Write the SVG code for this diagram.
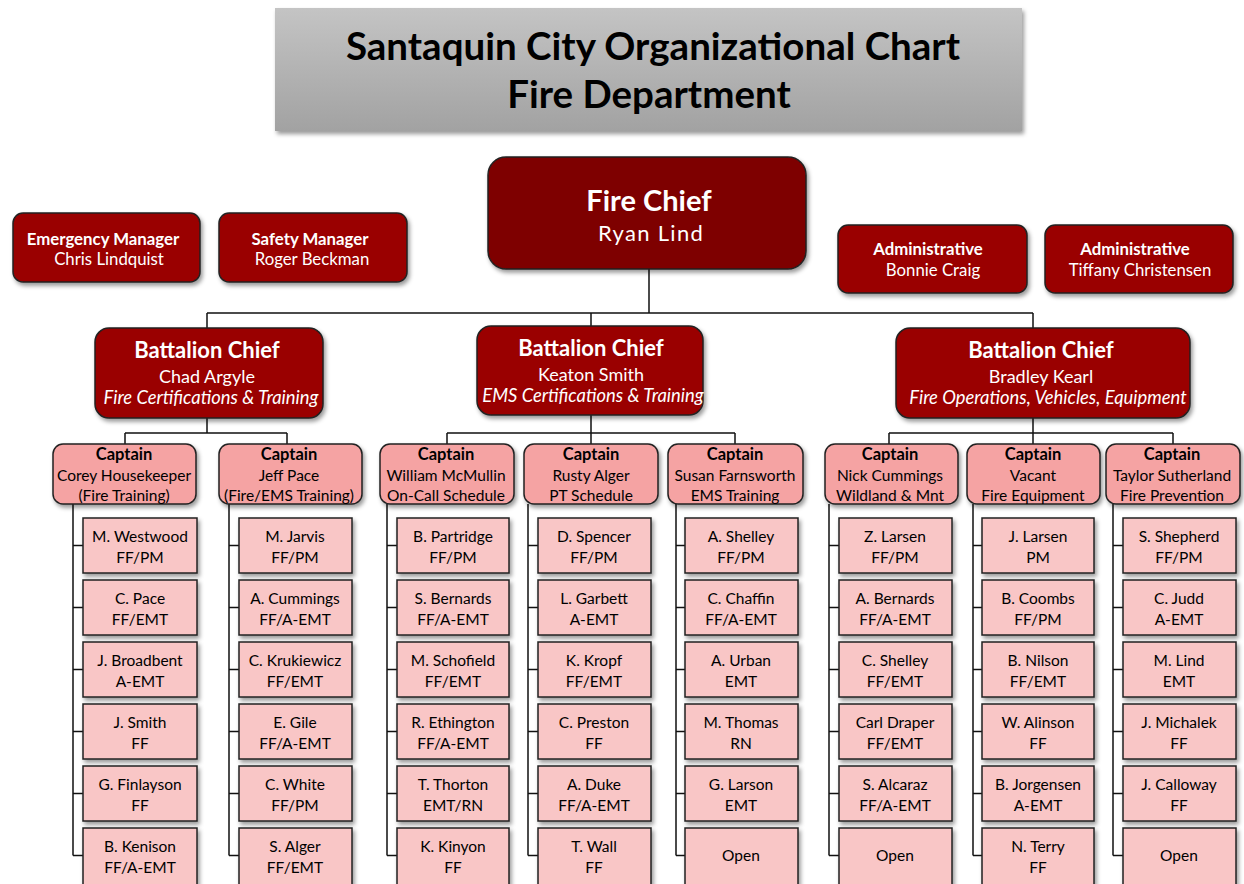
<svg xmlns="http://www.w3.org/2000/svg" width="1244" height="884" viewBox="0 0 1244 884">
  <defs>
    <linearGradient id="titleGrad" x1="0" y1="0" x2="0" y2="1">
      <stop offset="0" stop-color="#c4c4c4"/>
      <stop offset="1" stop-color="#a2a2a2"/>
    </linearGradient>
    <filter id="sh" x="-10%" y="-10%" width="125%" height="135%">
      <feDropShadow dx="2" dy="3" stdDeviation="2" flood-color="#000" flood-opacity="0.4"/>
    </filter>
  </defs>
  <style>
    text { font-family: Lato, "Liberation Sans", sans-serif; text-anchor: middle; }
    .title { font-size: 38.5px; font-weight: bold; fill: #000; }
    .chief { fill: #7e0000; stroke: #222; stroke-width: 1.5; }
    .red { fill: #9a0000; stroke: #222; stroke-width: 1.5; }
    .cap { fill: #f5a3a3; stroke: #222; stroke-width: 1.5; }
    .staff { fill: #f9c6c6; stroke: #222; stroke-width: 1.5; }
    .w { fill: #fff; }
    .wb { fill: #fff; font-weight: bold; }
    .k { fill: #000; font-size: 15.5px; }
    .kb { fill: #000; font-size: 16.5px; font-weight: bold; }
    .sm { font-size: 16.8px; }
    .it { font-style: italic; font-size: 18.4px; }
    .conn { fill: none; stroke: #111; stroke-width: 1.5; }
  </style>

  <rect width="1244" height="884" fill="#fff"/>

  <!-- heading -->
  <g id="title">
    <rect x="275" y="8" width="747" height="123" fill="url(#titleGrad)" filter="url(#sh)"/>
    <text class="title" x="653" y="60">Santaquin City Organizational Chart</text>
    <text class="title" x="649" y="108">Fire Department</text>
  </g>

  <!-- connectors -->
  <g id="connectors" class="conn">
    <path d="M649 269V313M207 313H1033M207 313V328M591 313V326M1033 313V328"/>
    <path d="M207 418V433M125 433H287M125 433V444M287 433V444"/>
    <path d="M591 415V433M447 433H735M447 433V444M591 433V444M735 433V444"/>
    <path d="M1033 418V433M889 433H1173M889 433V444M1033 433V444M1173 433V444"/>
    <!-- staff ladders -->
    <path d="M73 504V855.5M73 545.5H83M73 607.5H83M73 669.5H83M73 731.5H83M73 793.5H83M73 855.5H83"/>
    <path d="M229 504V855.5M229 545.5H239M229 607.5H239M229 669.5H239M229 731.5H239M229 793.5H239M229 855.5H239"/>
    <path d="M387 504V855.5M387 545.5H397M387 607.5H397M387 669.5H397M387 731.5H397M387 793.5H397M387 855.5H397"/>
    <path d="M528 504V855.5M528 545.5H538M528 607.5H538M528 669.5H538M528 731.5H538M528 793.5H538M528 855.5H538"/>
    <path d="M676 504V855.5M676 545.5H685M676 607.5H685M676 669.5H685M676 731.5H685M676 793.5H685M676 855.5H685"/>
    <path d="M829 504V855.5M829 545.5H839M829 607.5H839M829 669.5H839M829 731.5H839M829 793.5H839M829 855.5H839"/>
    <path d="M973 504V855.5M973 545.5H982M973 607.5H982M973 669.5H982M973 731.5H982M973 793.5H982M973 855.5H982"/>
    <path d="M1113 504V855.5M1113 545.5H1123M1113 607.5H1123M1113 669.5H1123M1113 731.5H1123M1113 793.5H1123M1113 855.5H1123"/>
  </g>

  <!-- top level -->
  <g id="fire-chief">
    <rect class="chief" x="488" y="157" width="318" height="112" rx="18" filter="url(#sh)"/>
    <text class="wb" x="649" y="211" font-size="29">Fire Chief</text>
    <text class="w" x="651" y="241" font-size="22" letter-spacing="1.3">Ryan Lind</text>
  </g>
  <g id="emergency-manager">
    <rect class="red" x="13" y="213" width="187" height="69" rx="10" filter="url(#sh)"/>
    <text class="wb sm" x="103" y="245">Emergency Manager</text>
    <text class="w sm" x="109" y="265">Chris Lindquist</text>
  </g>
  <g id="safety-manager">
    <rect class="red" x="219" y="213" width="188" height="69" rx="10" filter="url(#sh)"/>
    <text class="wb sm" x="310" y="245">Safety Manager</text>
    <text class="w sm" x="312" y="265">Roger Beckman</text>
  </g>
  <g id="admin-craig">
    <rect class="red" x="838" y="225" width="189" height="68" rx="10" filter="url(#sh)"/>
    <text class="wb sm" x="928" y="255">Administrative</text>
    <text class="w sm" x="933" y="276">Bonnie Craig</text>
  </g>
  <g id="admin-christensen">
    <rect class="red" x="1045" y="225" width="188" height="68" rx="10" filter="url(#sh)"/>
    <text class="wb sm" x="1135" y="255">Administrative</text>
    <text class="w sm" x="1140" y="276">Tiffany Christensen</text>
  </g>

  <!-- battalion chiefs -->
  <g id="bc-argyle">
    <rect class="red" x="95" y="328" width="228" height="90" rx="14" filter="url(#sh)"/>
    <text class="wb" x="207" y="358" font-size="22">Battalion Chief</text>
    <text class="w" x="207" y="383" font-size="18">Chad Argyle</text>
    <text class="w it" x="211" y="404">Fire Certifications &amp; Training</text>
  </g>
  <g id="bc-smith">
    <rect class="red" x="477" y="326" width="226" height="89" rx="14" filter="url(#sh)"/>
    <text class="wb" x="591" y="356" font-size="22">Battalion Chief</text>
    <text class="w" x="591" y="381" font-size="18">Keaton Smith</text>
    <text class="w it" x="593" y="402">EMS Certifications &amp; Training</text>
  </g>
  <g id="bc-kearl">
    <rect class="red" x="896" y="328" width="294" height="90" rx="14" filter="url(#sh)"/>
    <text class="wb" x="1041" y="358" font-size="22">Battalion Chief</text>
    <text class="w" x="1041" y="383" font-size="18">Bradley Kearl</text>
    <text class="w it" x="1048" y="404">Fire Operations, Vehicles, Equipment</text>
  </g>

  <!-- captains -->
  <g id="cap-housekeeper">
    <rect class="cap" x="53" y="444" width="143" height="60" rx="10" filter="url(#sh)"/>
    <text class="kb" x="124" y="460">Captain</text>
    <text class="k" x="124" y="481">Corey Housekeeper</text>
    <text class="k" x="124" y="501">(Fire Training)</text>
  </g>
  <g id="cap-pace">
    <rect class="cap" x="219" y="444" width="143" height="60" rx="10" filter="url(#sh)"/>
    <text class="kb" x="289" y="460">Captain</text>
    <text class="k" x="289" y="481">Jeff Pace</text>
    <text class="k" x="289" y="501">(Fire/EMS Training)</text>
  </g>
  <g id="cap-mcmullin">
    <rect class="cap" x="380" y="444" width="134" height="60" rx="10" filter="url(#sh)"/>
    <text class="kb" x="446" y="460">Captain</text>
    <text class="k" x="446" y="481">William McMullin</text>
    <text class="k" x="446" y="501">On-Call Schedule</text>
  </g>
  <g id="cap-alger">
    <rect class="cap" x="524" y="444" width="134" height="60" rx="10" filter="url(#sh)"/>
    <text class="kb" x="591" y="460">Captain</text>
    <text class="k" x="591" y="481">Rusty Alger</text>
    <text class="k" x="591" y="501">PT Schedule</text>
  </g>
  <g id="cap-farnsworth">
    <rect class="cap" x="668" y="444" width="135" height="60" rx="10" filter="url(#sh)"/>
    <text class="kb" x="735" y="460">Captain</text>
    <text class="k" x="735" y="481">Susan Farnsworth</text>
    <text class="k" x="735" y="501">EMS Training</text>
  </g>
  <g id="cap-cummings">
    <rect class="cap" x="825" y="444" width="133" height="60" rx="10" filter="url(#sh)"/>
    <text class="kb" x="890" y="460">Captain</text>
    <text class="k" x="890" y="481">Nick Cummings</text>
    <text class="k" x="890" y="501">Wildland &amp; Mnt</text>
  </g>
  <g id="cap-vacant">
    <rect class="cap" x="967" y="444" width="133" height="60" rx="10" filter="url(#sh)"/>
    <text class="kb" x="1033" y="460">Captain</text>
    <text class="k" x="1033" y="481">Vacant</text>
    <text class="k" x="1033" y="501">Fire Equipment</text>
  </g>
  <g id="cap-sutherland">
    <rect class="cap" x="1106" y="444" width="134" height="60" rx="10" filter="url(#sh)"/>
    <text class="kb" x="1172" y="460">Captain</text>
    <text class="k" x="1172" y="481">Taylor Sutherland</text>
    <text class="k" x="1172" y="501">Fire Prevention</text>
  </g>

  <!-- crews: column 1 -->
  <g id="s-westwood"><rect class="staff" x="83" y="518" width="114" height="55" filter="url(#sh)"/><text class="k" x="140" y="542">M. Westwood</text><text class="k" x="140" y="563">FF/PM</text></g>
  <g id="s-cpace"><rect class="staff" x="83" y="580" width="114" height="55" filter="url(#sh)"/><text class="k" x="140" y="604">C. Pace</text><text class="k" x="140" y="625">FF/EMT</text></g>
  <g id="s-broadbent"><rect class="staff" x="83" y="642" width="114" height="55" filter="url(#sh)"/><text class="k" x="140" y="666">J. Broadbent</text><text class="k" x="140" y="687">A-EMT</text></g>
  <g id="s-jsmith"><rect class="staff" x="83" y="704" width="114" height="55" filter="url(#sh)"/><text class="k" x="140" y="728">J. Smith</text><text class="k" x="140" y="749">FF</text></g>
  <g id="s-finlayson"><rect class="staff" x="83" y="766" width="114" height="55" filter="url(#sh)"/><text class="k" x="140" y="790">G. Finlayson</text><text class="k" x="140" y="811">FF</text></g>
  <g id="s-kenison"><rect class="staff" x="83" y="828" width="114" height="60" filter="url(#sh)"/><text class="k" x="140" y="852">B. Kenison</text><text class="k" x="140" y="873">FF/A-EMT</text></g>

  <!-- column 2 -->
  <g id="s-jarvis"><rect class="staff" x="239" y="518" width="113" height="55" filter="url(#sh)"/><text class="k" x="295" y="542">M. Jarvis</text><text class="k" x="295" y="563">FF/PM</text></g>
  <g id="s-cummings"><rect class="staff" x="239" y="580" width="113" height="55" filter="url(#sh)"/><text class="k" x="295" y="604">A. Cummings</text><text class="k" x="295" y="625">FF/A-EMT</text></g>
  <g id="s-krukiewicz"><rect class="staff" x="239" y="642" width="113" height="55" filter="url(#sh)"/><text class="k" x="295" y="666">C. Krukiewicz</text><text class="k" x="295" y="687">FF/EMT</text></g>
  <g id="s-gile"><rect class="staff" x="239" y="704" width="113" height="55" filter="url(#sh)"/><text class="k" x="295" y="728">E. Gile</text><text class="k" x="295" y="749">FF/A-EMT</text></g>
  <g id="s-white"><rect class="staff" x="239" y="766" width="113" height="55" filter="url(#sh)"/><text class="k" x="295" y="790">C. White</text><text class="k" x="295" y="811">FF/PM</text></g>
  <g id="s-salger"><rect class="staff" x="239" y="828" width="113" height="60" filter="url(#sh)"/><text class="k" x="295" y="852">S. Alger</text><text class="k" x="295" y="873">FF/EMT</text></g>

  <!-- column 3 -->
  <g id="s-partridge"><rect class="staff" x="397" y="518" width="112" height="55" filter="url(#sh)"/><text class="k" x="453" y="542">B. Partridge</text><text class="k" x="453" y="563">FF/PM</text></g>
  <g id="s-sbernards"><rect class="staff" x="397" y="580" width="112" height="55" filter="url(#sh)"/><text class="k" x="453" y="604">S. Bernards</text><text class="k" x="453" y="625">FF/A-EMT</text></g>
  <g id="s-schofield"><rect class="staff" x="397" y="642" width="112" height="55" filter="url(#sh)"/><text class="k" x="453" y="666">M. Schofield</text><text class="k" x="453" y="687">FF/EMT</text></g>
  <g id="s-ethington"><rect class="staff" x="397" y="704" width="112" height="55" filter="url(#sh)"/><text class="k" x="453" y="728">R. Ethington</text><text class="k" x="453" y="749">FF/A-EMT</text></g>
  <g id="s-thorton"><rect class="staff" x="397" y="766" width="112" height="55" filter="url(#sh)"/><text class="k" x="453" y="790">T. Thorton</text><text class="k" x="453" y="811">EMT/RN</text></g>
  <g id="s-kinyon"><rect class="staff" x="397" y="828" width="112" height="60" filter="url(#sh)"/><text class="k" x="453" y="852">K. Kinyon</text><text class="k" x="453" y="873">FF</text></g>

  <!-- column 4 -->
  <g id="s-spencer"><rect class="staff" x="538" y="518" width="113" height="55" filter="url(#sh)"/><text class="k" x="594" y="542">D. Spencer</text><text class="k" x="594" y="563">FF/PM</text></g>
  <g id="s-garbett"><rect class="staff" x="538" y="580" width="113" height="55" filter="url(#sh)"/><text class="k" x="594" y="604">L. Garbett</text><text class="k" x="594" y="625">A-EMT</text></g>
  <g id="s-kropf"><rect class="staff" x="538" y="642" width="113" height="55" filter="url(#sh)"/><text class="k" x="594" y="666">K. Kropf</text><text class="k" x="594" y="687">FF/EMT</text></g>
  <g id="s-preston"><rect class="staff" x="538" y="704" width="113" height="55" filter="url(#sh)"/><text class="k" x="594" y="728">C. Preston</text><text class="k" x="594" y="749">FF</text></g>
  <g id="s-duke"><rect class="staff" x="538" y="766" width="113" height="55" filter="url(#sh)"/><text class="k" x="594" y="790">A. Duke</text><text class="k" x="594" y="811">FF/A-EMT</text></g>
  <g id="s-wall"><rect class="staff" x="538" y="828" width="113" height="60" filter="url(#sh)"/><text class="k" x="594" y="852">T. Wall</text><text class="k" x="594" y="873">FF</text></g>

  <!-- column 5 -->
  <g id="s-ashelley"><rect class="staff" x="685" y="518" width="113" height="55" filter="url(#sh)"/><text class="k" x="741" y="542">A. Shelley</text><text class="k" x="741" y="563">FF/PM</text></g>
  <g id="s-chaffin"><rect class="staff" x="685" y="580" width="113" height="55" filter="url(#sh)"/><text class="k" x="741" y="604">C. Chaffin</text><text class="k" x="741" y="625">FF/A-EMT</text></g>
  <g id="s-urban"><rect class="staff" x="685" y="642" width="113" height="55" filter="url(#sh)"/><text class="k" x="741" y="666">A. Urban</text><text class="k" x="741" y="687">EMT</text></g>
  <g id="s-thomas"><rect class="staff" x="685" y="704" width="113" height="55" filter="url(#sh)"/><text class="k" x="741" y="728">M. Thomas</text><text class="k" x="741" y="749">RN</text></g>
  <g id="s-larson"><rect class="staff" x="685" y="766" width="113" height="55" filter="url(#sh)"/><text class="k" x="741" y="790">G. Larson</text><text class="k" x="741" y="811">EMT</text></g>
  <g id="s-open5"><rect class="staff" x="685" y="828" width="113" height="60" filter="url(#sh)"/><text class="k" x="741" y="861">Open</text></g>

  <!-- column 6 -->
  <g id="s-zlarsen"><rect class="staff" x="839" y="518" width="113" height="55" filter="url(#sh)"/><text class="k" x="895" y="542">Z. Larsen</text><text class="k" x="895" y="563">FF/PM</text></g>
  <g id="s-abernards"><rect class="staff" x="839" y="580" width="113" height="55" filter="url(#sh)"/><text class="k" x="895" y="604">A. Bernards</text><text class="k" x="895" y="625">FF/A-EMT</text></g>
  <g id="s-cshelley"><rect class="staff" x="839" y="642" width="113" height="55" filter="url(#sh)"/><text class="k" x="895" y="666">C. Shelley</text><text class="k" x="895" y="687">FF/EMT</text></g>
  <g id="s-draper"><rect class="staff" x="839" y="704" width="113" height="55" filter="url(#sh)"/><text class="k" x="895" y="728">Carl Draper</text><text class="k" x="895" y="749">FF/EMT</text></g>
  <g id="s-alcaraz"><rect class="staff" x="839" y="766" width="113" height="55" filter="url(#sh)"/><text class="k" x="895" y="790">S. Alcaraz</text><text class="k" x="895" y="811">FF/A-EMT</text></g>
  <g id="s-open6"><rect class="staff" x="839" y="828" width="113" height="60" filter="url(#sh)"/><text class="k" x="895" y="861">Open</text></g>

  <!-- column 7 -->
  <g id="s-jlarsen"><rect class="staff" x="982" y="518" width="112" height="55" filter="url(#sh)"/><text class="k" x="1038" y="542">J. Larsen</text><text class="k" x="1038" y="563">PM</text></g>
  <g id="s-coombs"><rect class="staff" x="982" y="580" width="112" height="55" filter="url(#sh)"/><text class="k" x="1038" y="604">B. Coombs</text><text class="k" x="1038" y="625">FF/PM</text></g>
  <g id="s-nilson"><rect class="staff" x="982" y="642" width="112" height="55" filter="url(#sh)"/><text class="k" x="1038" y="666">B. Nilson</text><text class="k" x="1038" y="687">FF/EMT</text></g>
  <g id="s-alinson"><rect class="staff" x="982" y="704" width="112" height="55" filter="url(#sh)"/><text class="k" x="1038" y="728">W. Alinson</text><text class="k" x="1038" y="749">FF</text></g>
  <g id="s-jorgensen"><rect class="staff" x="982" y="766" width="112" height="55" filter="url(#sh)"/><text class="k" x="1038" y="790">B. Jorgensen</text><text class="k" x="1038" y="811">A-EMT</text></g>
  <g id="s-terry"><rect class="staff" x="982" y="828" width="112" height="60" filter="url(#sh)"/><text class="k" x="1038" y="852">N. Terry</text><text class="k" x="1038" y="873">FF</text></g>

  <!-- column 8 -->
  <g id="s-shepherd"><rect class="staff" x="1123" y="518" width="113" height="55" filter="url(#sh)"/><text class="k" x="1179" y="542">S. Shepherd</text><text class="k" x="1179" y="563">FF/PM</text></g>
  <g id="s-judd"><rect class="staff" x="1123" y="580" width="113" height="55" filter="url(#sh)"/><text class="k" x="1179" y="604">C. Judd</text><text class="k" x="1179" y="625">A-EMT</text></g>
  <g id="s-mlind"><rect class="staff" x="1123" y="642" width="113" height="55" filter="url(#sh)"/><text class="k" x="1179" y="666">M. Lind</text><text class="k" x="1179" y="687">EMT</text></g>
  <g id="s-michalek"><rect class="staff" x="1123" y="704" width="113" height="55" filter="url(#sh)"/><text class="k" x="1179" y="728">J. Michalek</text><text class="k" x="1179" y="749">FF</text></g>
  <g id="s-calloway"><rect class="staff" x="1123" y="766" width="113" height="55" filter="url(#sh)"/><text class="k" x="1179" y="790">J. Calloway</text><text class="k" x="1179" y="811">FF</text></g>
  <g id="s-open8"><rect class="staff" x="1123" y="828" width="113" height="60" filter="url(#sh)"/><text class="k" x="1179" y="861">Open</text></g>
</svg>
